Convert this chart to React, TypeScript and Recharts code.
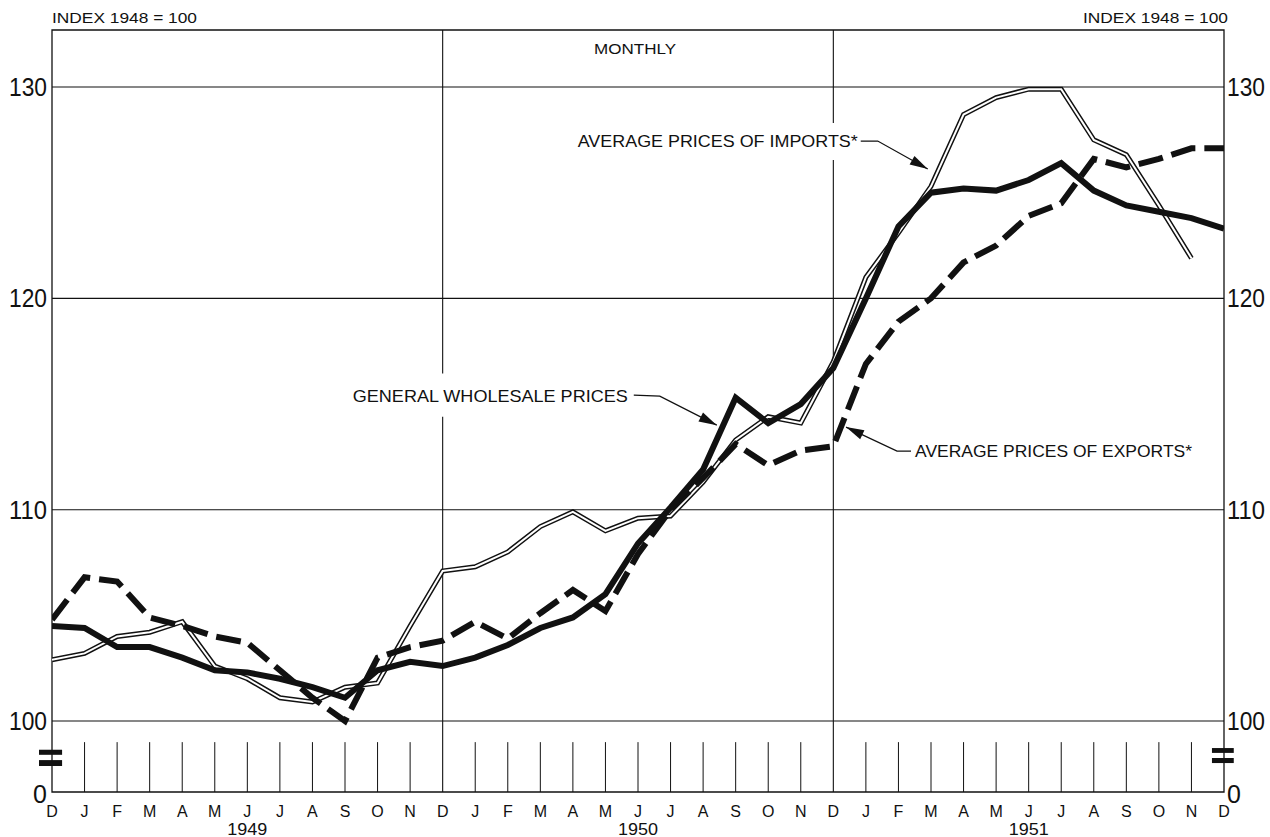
import React from 'react';
import {
  LineChart,
  Line,
  XAxis,
  YAxis,
  ReferenceLine,
  ReferenceArea,
  ReferenceDot,
} from 'recharts';

// ---------- data ----------
const MONTHS = [
  'D',
  'J', 'F', 'M', 'A', 'M', 'J', 'J', 'A', 'S', 'O', 'N', 'D',
  'J', 'F', 'M', 'A', 'M', 'J', 'J', 'A', 'S', 'O', 'N', 'D',
  'J', 'F', 'M', 'A', 'M', 'J', 'J', 'A', 'S', 'O', 'N', 'D',
];
const YEAR_TICK_INDEX = [6, 18, 30];
const YEARS = ['1949', '1950', '1951'];

const WHOLESALE = [
  104.5,
  104.4, 103.5, 103.5, 103.0, 102.4, 102.3, 102.0, 101.6, 101.1, 102.4, 102.8, 102.6,
  103.0, 103.6, 104.4, 104.9, 106.0, 108.4, 110.1, 111.9, 115.3, 114.1, 115.0, 116.7,
  120.0, 123.4, 125.0, 125.2, 125.1, 125.6, 126.4, 125.1, 124.4, 124.1, 123.8, 123.3,
];
const EXPORTS = [
  104.8,
  106.8, 106.6, 104.9, 104.5, 104.0, 103.7, 102.4, 101.1, 100.0, 103.0, 103.5, 103.8,
  104.7, 103.9, 105.1, 106.2, 105.2, 107.9, 110.0, 111.5, 113.1, 112.1, 112.8, 113.0,
  116.9, 118.9, 120.0, 121.7, 122.5, 123.9, 124.5, 126.6, 126.2, 126.6, 127.1, 127.1,
];
const IMPORTS: (number | null)[] = [
  102.9,
  103.2, 104.0, 104.2, 104.7, 102.6, 102.0, 101.1, 100.9, 101.6, 101.8, 104.5, 107.1,
  107.3, 108.0, 109.2, 109.9, 109.0, 109.6, 109.7, 111.3, 113.3, 114.4, 114.1, 117.0,
  121.0, 123.1, 125.3, 128.7, 129.5, 129.9, 129.9, 127.5, 126.8, 124.4, 121.9, null,
];

const Y_ZERO = 96.64; // position of the broken-axis "0"
const Y_MAX = 132.7;
const Y_TICKS = [Y_ZERO, 100, 110, 120, 130];
const GRID_VALUES = [100, 110, 120, 130];
const X_TICKS = MONTHS.map((_, i) => i);
const YEAR_DIVIDERS = [12, 24];
const BAND_TOP = 99.0;

const data = MONTHS.map((m, i) => ({
  i,
  m,
  w: WHOLESALE[i],
  e: EXPORTS[i],
  im: IMPORTS[i],
}));

const FONT = "'Liberation Sans', Arial, sans-serif";
const INK = '#111';

// ---------- ticks ----------
const XTick = (props: any) => {
  const { x, y, payload } = props;
  const i = payload.value as number;
  const yi = YEAR_TICK_INDEX.indexOf(i);
  return (
    <g>
      <text x={x} y={y + 25} textAnchor="middle" fontSize={16} fontFamily={FONT} fill={INK}>
        {MONTHS[i]}
      </text>
      {yi >= 0 && (
        <text x={x} y={y + 43} textAnchor="middle" fontSize={16} fontFamily={FONT} fill={INK} textLength={40} lengthAdjust="spacingAndGlyphs">
          {YEARS[yi]}
        </text>
      )}
    </g>
  );
};

const yLabel = (v: number) => (v < 99 ? '0' : String(v));

const YTick = (props: any) => {
  const { x, y, payload, side } = props;
  const v = payload.value as number;
  const s = yLabel(v);
  const extra = s.length > 1 ? { textLength: 38, lengthAdjust: 'spacingAndGlyphs' } : {};
  return (
    <text
      x={x}
      y={y + (v < 99 ? 11 : 9)}
      textAnchor={side === 'left' ? 'end' : 'start'}
      fontSize={25}
      fontFamily={FONT}
      fill={INK}
      {...(extra as any)}
    >
      {s}
    </text>
  );
};

// ---------- annotations ----------
type Ann = {
  text: string;
  tx: number;
  ty: number;
  anchor: 'start' | 'end';
  width: number;
  leader: [number, number][];
};

const arrowHead = (px: number, py: number, len = 18, half = 5) => {
  const d = Math.hypot(px, py);
  const ux = -px / d;
  const uy = -py / d;
  const bx = -ux * len;
  const by = -uy * len;
  const nx = -uy;
  const ny = ux;
  return `0,0 ${bx + nx * half},${by + ny * half} ${bx - nx * half},${by - ny * half}`;
};

const makeAnnotation = (a: Ann) => (props: any) => {
  const { cx, cy } = props;
  const pts = [...a.leader, [0, 0] as [number, number]];
  const prev = a.leader[a.leader.length - 1];
  return (
    <g transform={`translate(${cx},${cy})`}>
      <polyline
        points={pts.map((p) => `${p[0]},${p[1]}`).join(' ')}
        fill="none"
        stroke={INK}
        strokeWidth={1.3}
      />
      <polygon points={arrowHead(prev[0], prev[1])} fill={INK} />
      <text
        x={a.tx}
        y={a.ty}
        textAnchor={a.anchor}
        fontSize={17}
        fontFamily={FONT}
        fill={INK}
        textLength={a.width}
        lengthAdjust="spacingAndGlyphs"
      >
        {a.text}
      </text>
    </g>
  );
};

const WHOLESALE_ANN = makeAnnotation({
  text: 'GENERAL WHOLESALE PRICES',
  tx: -89,
  ty: -23,
  anchor: 'end',
  width: 275,
  leader: [
    [-83, -30],
    [-57, -29],
  ],
});
const IMPORTS_ANN = makeAnnotation({
  text: 'AVERAGE PRICES OF IMPORTS*',
  tx: -70,
  ty: -22,
  anchor: 'end',
  width: 280,
  leader: [
    [-67, -28],
    [-50, -28],
  ],
});
const EXPORTS_ANN = makeAnnotation({
  text: 'AVERAGE PRICES OF EXPORTS*',
  tx: 69,
  ty: 30,
  anchor: 'start',
  width: 277,
  leader: [
    [65, 24],
    [51, 24],
  ],
});

const TextShape = (text: string, dx: number, dy: number, anchor: string, size: number, width: number) => (props: any) => (
  <text
    x={props.cx + dx}
    y={props.cy + dy}
    textAnchor={anchor as any}
    fontSize={size}
    fontFamily={FONT}
    fill={INK}
    textLength={width}
    lengthAdjust="spacingAndGlyphs"
  >
    {text}
  </text>
);

export default function App() {
  return (
    <div style={{ position: 'absolute', left: 0, top: 0, background: '#fff' }}>
      <LineChart
        width={1270}
        height={837}
        data={data}
        margin={{ top: 30, right: 0, bottom: 0, left: 0 }}
      >
        <XAxis
          dataKey="i"
          type="number"
          domain={[0, 36]}
          ticks={X_TICKS}
          interval={0}
          tick={<XTick />}
          tickLine={false}
          axisLine={false}
          tickSize={0}
          tickMargin={0}
          height={45}
          allowDataOverflow
        />
        <YAxis
          type="number"
          domain={[Y_ZERO, Y_MAX]}
          ticks={Y_TICKS}
          interval={0}
          tick={<YTick side="left" />}
          tickLine={false}
          axisLine={false}
          tickSize={0}
          tickMargin={5}
          width={52}
          allowDataOverflow
        />
        <YAxis
          yAxisId="r"
          orientation="right"
          type="number"
          domain={[Y_ZERO, Y_MAX]}
          ticks={Y_TICKS}
          interval={0}
          tick={<YTick side="right" />}
          tickLine={false}
          axisLine={false}
          tickSize={0}
          tickMargin={3}
          width={46}
          allowDataOverflow
        />

        {GRID_VALUES.map((v) => (
          <ReferenceLine key={'g' + v} y={v} stroke={INK} strokeWidth={1.1} />
        ))}

        {/* year dividers, interrupted behind the annotation labels */}
        <ReferenceLine segment={[{ x: YEAR_DIVIDERS[0], y: Y_MAX }, { x: YEAR_DIVIDERS[0], y: 116.45 }]} stroke={INK} strokeWidth={1.1} />
        <ReferenceLine segment={[{ x: YEAR_DIVIDERS[0], y: 114.4 }, { x: YEAR_DIVIDERS[0], y: Y_ZERO }]} stroke={INK} strokeWidth={1.1} />
        <ReferenceLine segment={[{ x: YEAR_DIVIDERS[1], y: Y_MAX }, { x: YEAR_DIVIDERS[1], y: 128.3 }]} stroke={INK} strokeWidth={1.1} />
        <ReferenceLine segment={[{ x: YEAR_DIVIDERS[1], y: 126.55 }, { x: YEAR_DIVIDERS[1], y: Y_ZERO }]} stroke={INK} strokeWidth={1.1} />

        {/* month ticks in the broken band */}
        {X_TICKS.filter((i) => i > 0 && i < 36 && !YEAR_DIVIDERS.includes(i)).map((i) => (
          <ReferenceLine
            key={'t' + i}
            segment={[{ x: i, y: BAND_TOP }, { x: i, y: Y_ZERO }]}
            stroke={INK}
            strokeWidth={1}
          />
        ))}

        {/* frame */}
        <ReferenceArea x1={0} x2={36} y1={Y_ZERO} y2={Y_MAX} fill="none" stroke={INK} strokeWidth={1.3} ifOverflow="visible" />

        {/* axis break symbols */}
        <ReferenceArea x1={-0.4} x2={0.31} y1={98.4} y2={98.64} fill={INK} fillOpacity={1} stroke="none" ifOverflow="visible" />
        <ReferenceArea x1={-0.4} x2={0.31} y1={97.87} y2={98.15} fill={INK} fillOpacity={1} stroke="none" ifOverflow="visible" />
        <ReferenceArea x1={35.63} x2={36.3} y1={98.49} y2={98.72} fill={INK} fillOpacity={1} stroke="none" ifOverflow="visible" />
        <ReferenceArea x1={35.63} x2={36.3} y1={98.01} y2={98.25} fill={INK} fillOpacity={1} stroke="none" ifOverflow="visible" />

        {/* imports: double line */}
        <Line dataKey="im" type="linear" stroke={INK} strokeWidth={5} dot={false} activeDot={false} isAnimationActive={false} />
        <Line dataKey="im" type="linear" stroke="#fff" strokeWidth={2} dot={false} activeDot={false} isAnimationActive={false} />
        {/* exports: heavy dashed */}
        <Line dataKey="e" type="linear" stroke={INK} strokeWidth={6} strokeDasharray="25 9" dot={false} activeDot={false} isAnimationActive={false} />
        {/* wholesale: heavy solid */}
        <Line dataKey="w" type="linear" stroke={INK} strokeWidth={6} dot={false} activeDot={false} isAnimationActive={false} />

        {/* annotations */}
        <ReferenceDot x={20.42} y={114.0} r={1} fill="none" stroke="none" shape={WHOLESALE_ANN} ifOverflow="visible" />
        <ReferenceDot x={26.9} y={126.12} r={1} fill="none" stroke="none" shape={IMPORTS_ANN} ifOverflow="visible" />
        <ReferenceDot x={24.39} y={113.91} r={1} fill="none" stroke="none" shape={EXPORTS_ANN} ifOverflow="visible" />

        {/* headings */}
        <ReferenceDot x={0} y={Y_MAX} r={1} fill="none" stroke="none" shape={TextShape('INDEX 1948 = 100', 0, -7, 'start', 15, 145)} ifOverflow="visible" />
        <ReferenceDot x={36} y={Y_MAX} r={1} fill="none" stroke="none" shape={TextShape('INDEX 1948 = 100', 4, -7, 'end', 15, 145)} ifOverflow="visible" />
        <ReferenceDot x={18} y={Y_MAX} r={1} fill="none" stroke="none" shape={TextShape('MONTHLY', -3, 24, 'middle', 15, 82)} ifOverflow="visible" />
      </LineChart>
    </div>
  );
}
